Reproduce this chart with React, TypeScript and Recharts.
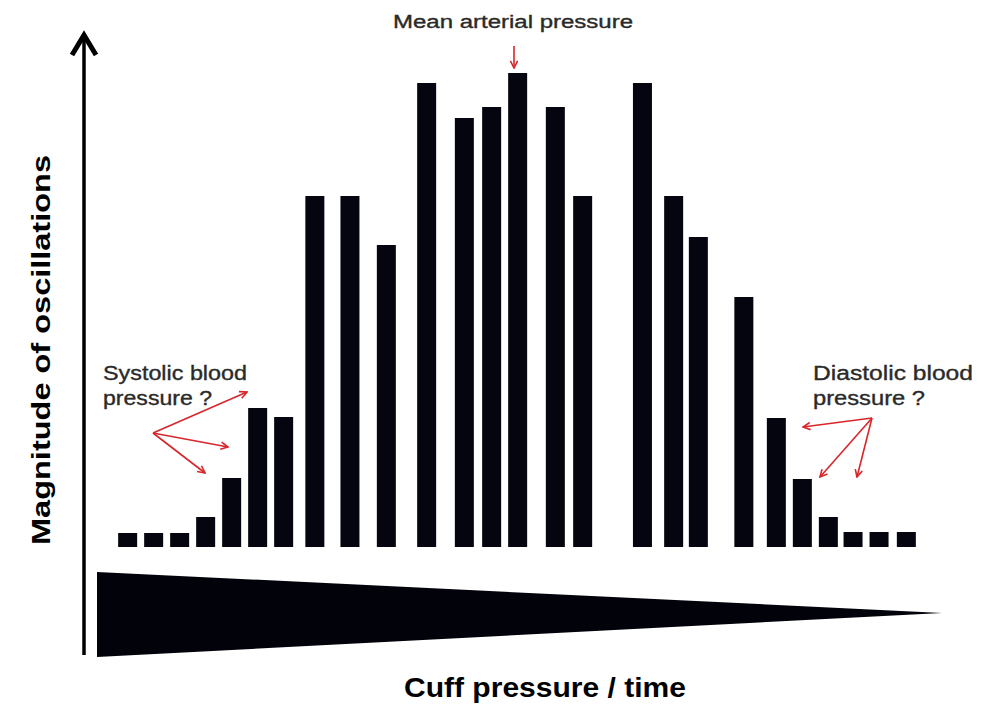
import React from 'react';
import { BarChart, Bar, XAxis, YAxis } from 'recharts';

// Time position of each oscillation (cuff deflation time, arbitrary units)
const times = [1, 2, 3, 4, 5, 6, 7, 8.2, 9.55, 10.95, 12.5, 13.95, 15, 16, 17.45, 18.5, 20.8, 22, 22.95, 24.7, 25.95, 26.95, 27.95, 28.9, 29.9, 30.95];
// Magnitude of each oscillation (arbitrary units)
const magnitudes = [14, 14, 14, 30, 69, 139, 130, 351, 351, 302, 464, 429, 440, 474, 440, 351, 464, 351, 310, 250, 129, 68, 30, 15, 15, 15];

const xTitle = 'Cuff pressure / time';
const yTitle = 'Magnitude of oscillations';
const mapLabel = 'Mean arterial pressure';
const sysLabel = ['Systolic blood', 'pressure ?'];
const diaLabel = ['Diastolic blood', 'pressure ?'];

const data = times.map((t, i) => ({ time: t, magnitude: magnitudes[i] }));

const FONT = '"Liberation Sans", Arial, sans-serif';
const RED = '#d8262b';
const NOTE = '#2a2a2a';

export default function App() {
  const noteProps = {
    fontFamily: FONT,
    fontSize: 20,
    lengthAdjust: 'spacingAndGlyphs' as const,
    fill: NOTE,
    stroke: NOTE,
    strokeWidth: 0.35,
  };
  return (
    <div style={{ position: 'absolute', left: 0, top: 0, width: 985, height: 704, background: '#fff' }}>
      <BarChart
        width={985}
        height={704}
        data={data}
        margin={{ top: 47, right: 25.5, bottom: 157, left: 101.5 }}
      >
        <XAxis type="number" dataKey="time" domain={[0, 33]} hide />
        <YAxis type="number" domain={[0, 500]} hide />
        <Bar dataKey="magnitude" fill="#04050f" barSize={19} isAnimationActive={false} />
      </BarChart>
      <svg
        width={985}
        height={704}
        style={{ position: 'absolute', left: 0, top: 0, pointerEvents: 'none' }}
      >
        <defs>
          <marker id="redHead" viewBox="0 0 10 10" refX="9" refY="5" markerWidth="9" markerHeight="9" orient="auto-start-reverse" markerUnits="userSpaceOnUse">
            <path d="M1,1 L9,5 L1,9" fill="none" stroke={RED} strokeWidth={1.8} />
          </marker>
        </defs>
        {/* y axis arrow */}
        <line x1={84} y1={36} x2={84} y2={655} stroke="#000" strokeWidth={3.5} />
        <polyline points="72,55 84,35 96,55" fill="none" stroke="#000" strokeWidth={5} strokeLinejoin="miter" />
        {/* cuff pressure wedge */}
        <polygon points="97,572 942,613 97,657" fill="#02030a" />

        {/* titles */}
        <text x={545} y={697} textAnchor="middle" fontFamily={FONT} fontWeight="bold" fontSize={28} textLength={282} lengthAdjust="spacingAndGlyphs" fill="#000">{xTitle}</text>
        <text x={50} y={350} textAnchor="middle" fontFamily={FONT} fontWeight="bold" fontSize={26} textLength={390} lengthAdjust="spacingAndGlyphs" fill="#000" transform="rotate(-90 50 350)">{yTitle}</text>

        {/* mean arterial pressure */}
        <text x={393} y={28} {...noteProps} fontSize={18} textLength={240}>{mapLabel}</text>
        <line x1={514} y1={46} x2={514} y2={68} stroke={RED} strokeWidth={1.6} markerEnd="url(#redHead)" />

        {/* systolic */}
        <text x={103} y={380} {...noteProps} textLength={144}>{sysLabel[0]}</text>
        <text x={103} y={405} {...noteProps} textLength={109}>{sysLabel[1]}</text>
        <line x1={153} y1={433} x2={247} y2={392} stroke={RED} strokeWidth={1.6} markerEnd="url(#redHead)" />
        <line x1={153} y1={433} x2={228} y2={447} stroke={RED} strokeWidth={1.6} markerEnd="url(#redHead)" />
        <line x1={153} y1={433} x2={205} y2={473} stroke={RED} strokeWidth={1.6} markerEnd="url(#redHead)" />

        {/* diastolic */}
        <text x={813} y={380} {...noteProps} textLength={160}>{diaLabel[0]}</text>
        <text x={813} y={405} {...noteProps} textLength={112}>{diaLabel[1]}</text>
        <line x1={872} y1={418} x2={803} y2={427} stroke={RED} strokeWidth={1.6} markerEnd="url(#redHead)" />
        <line x1={872} y1={418} x2={820} y2={477} stroke={RED} strokeWidth={1.6} markerEnd="url(#redHead)" />
        <line x1={872} y1={418} x2={857} y2={477} stroke={RED} strokeWidth={1.6} markerEnd="url(#redHead)" />
      </svg>
    </div>
  );
}
